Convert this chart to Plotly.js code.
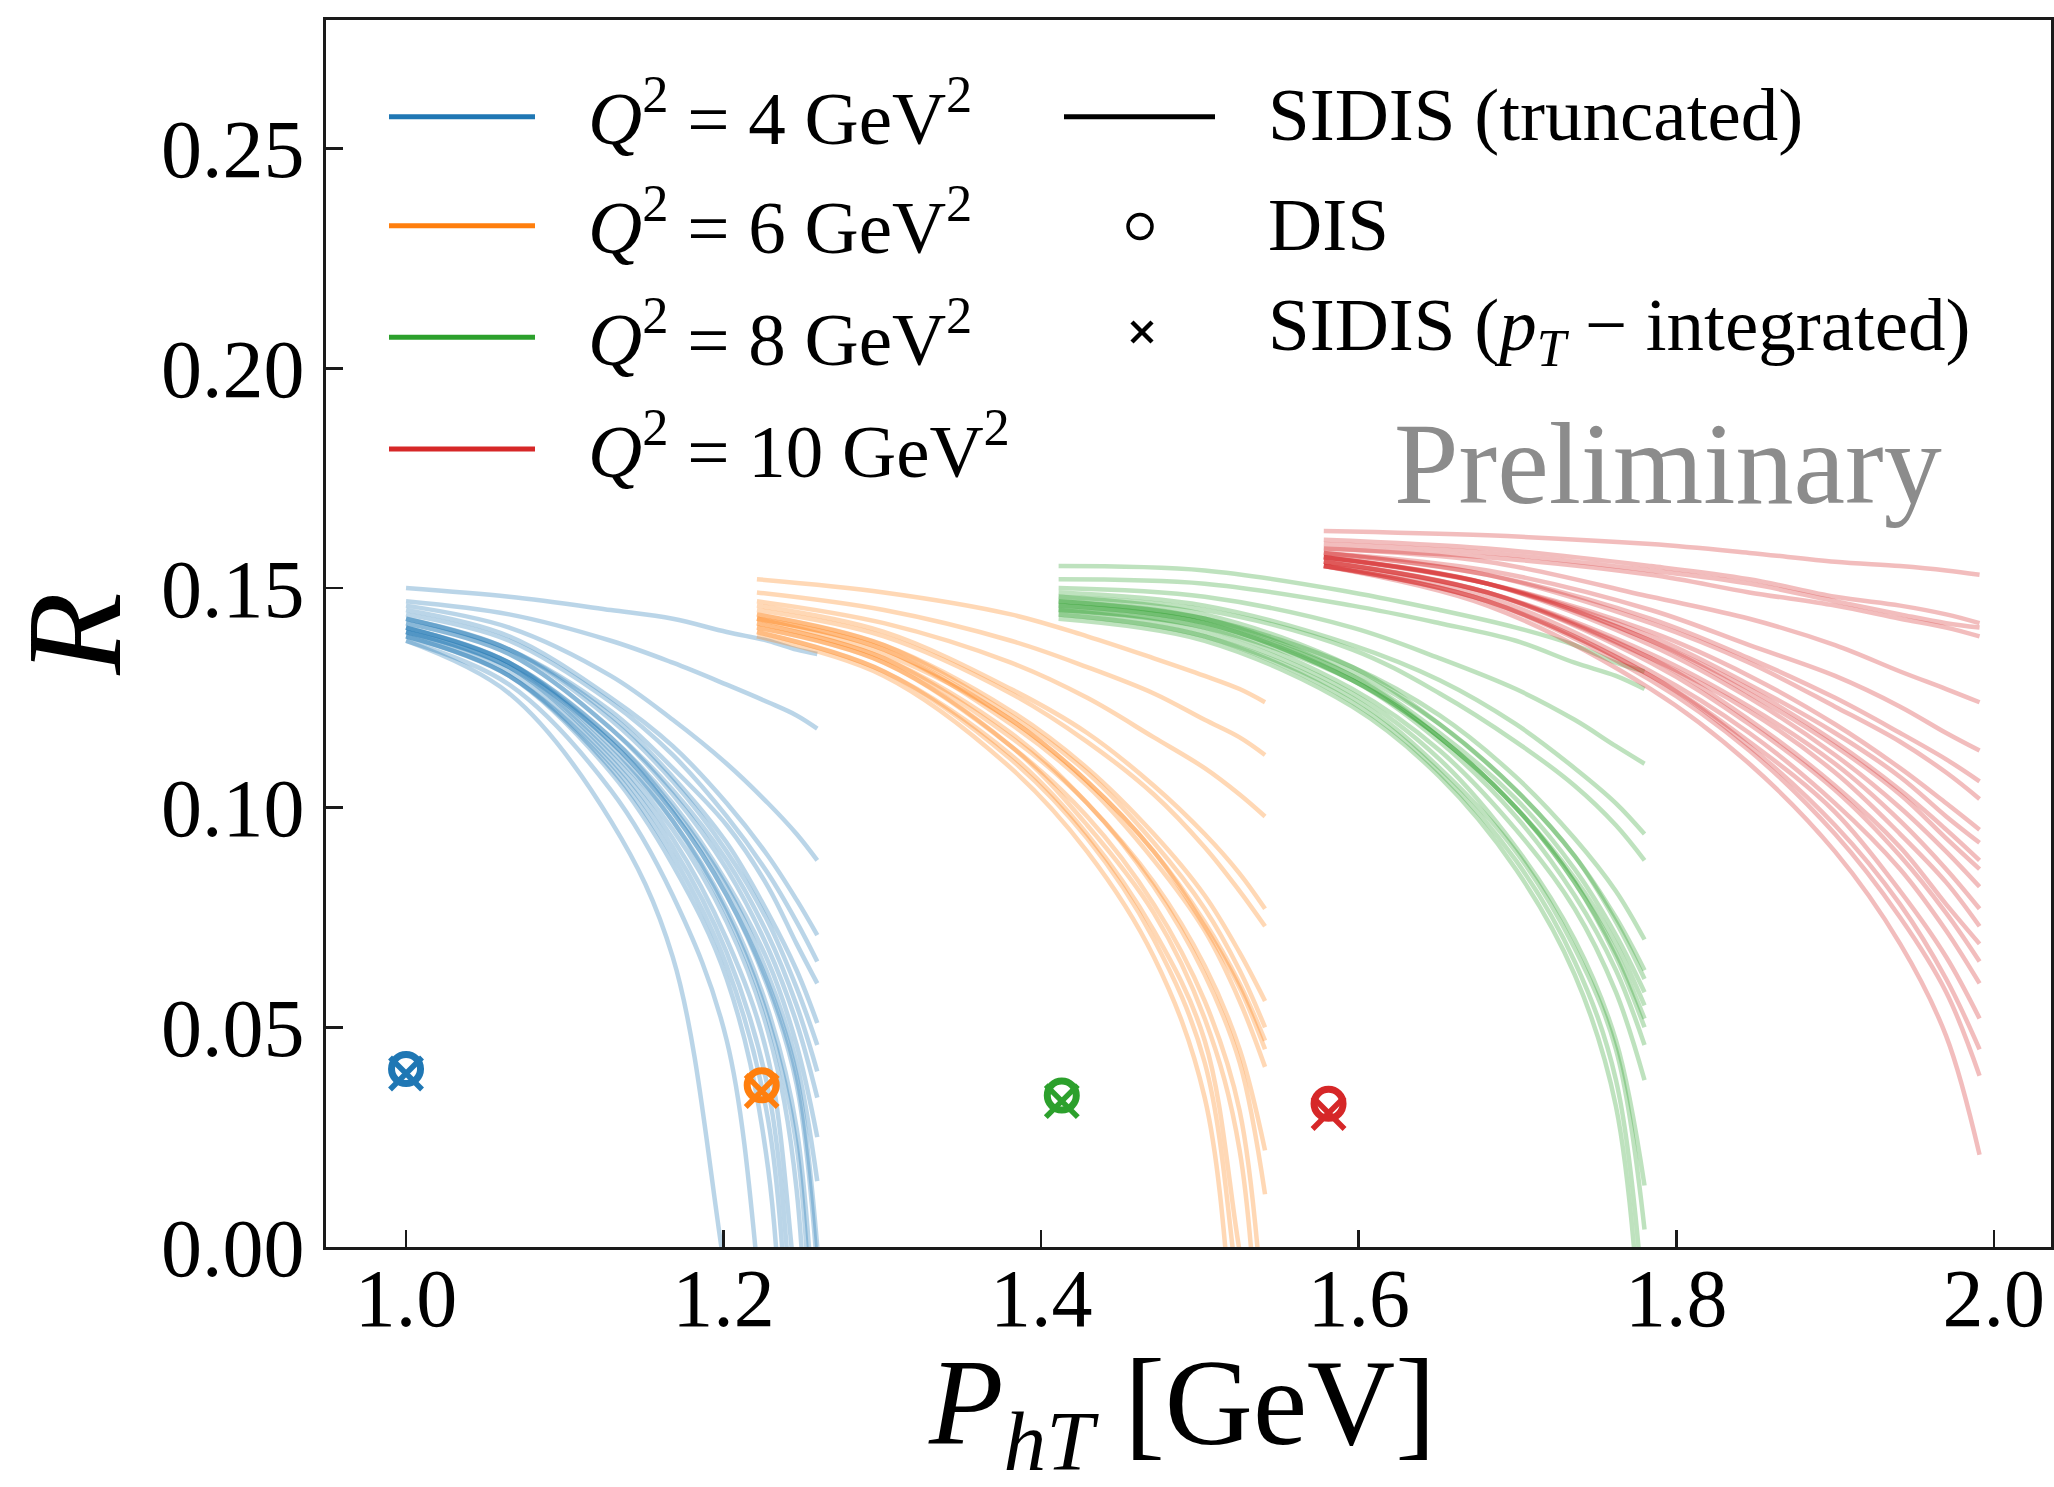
<!DOCTYPE html>
<html>
<head>
<meta charset="utf-8">
<script src="https://cdn.plot.ly/plotly-3.0.1.min.js"></script>
<style>html,body{margin:0;padding:0;background:#fff;}</style>
</head>
<body>
<div id="chart" style="width:2054px;height:1487px;"></div>
<script>
// ---------------- DATA ----------------
const groupLabels = ['<i>Q</i><sup>2</sup> = 4 GeV<sup>2</sup>', '<i>Q</i><sup>2</sup> = 6 GeV<sup>2</sup>',
                     '<i>Q</i><sup>2</sup> = 8 GeV<sup>2</sup>', '<i>Q</i><sup>2</sup> = 10 GeV<sup>2</sup>'];
const groupColors = ['#1f77b4', '#ff7f0e', '#2ca02c', '#d62728'];
const markerLabels = ['SIDIS (truncated)', 'DIS', 'SIDIS (<i>p</i><sub><i>T</i></sub> \u2212 integrated)'];
const xTitle = '<i>P</i><sub><i>hT</i></sub> [GeV]';
const yTitle = '<i>R</i>';
const watermark = 'Preliminary';

// P_hT sampling of the curves of each Q^2 group
const blueX   = [1.000, 1.065, 1.129, 1.168, 1.202, 1.228, 1.246, 1.259];
const orangeX = [1.221, 1.301, 1.381, 1.429, 1.471, 1.503, 1.525, 1.541];
const greenX  = [1.411, 1.503, 1.596, 1.651, 1.699, 1.736, 1.762, 1.780];
const redX    = [1.578, 1.681, 1.784, 1.846, 1.900, 1.941, 1.970, 1.991];

// R values of each replica curve (values below 0 fall out of the axis)
const blueCurves = [
  [0.150, 0.148, 0.145, 0.143, 0.140, 0.138, 0.136, 0.135],
  [0.147, 0.144, 0.138, 0.133, 0.128, 0.124, 0.121, 0.118],
  [0.146, 0.141, 0.130, 0.120, 0.110, 0.101, 0.094, 0.088],
  [0.145, 0.139, 0.125, 0.114, 0.101, 0.089, 0.079, 0.071],
  [0.144, 0.138, 0.124, 0.112, 0.098, 0.085, 0.074, 0.065],
  [0.143, 0.136, 0.122, 0.109, 0.096, 0.082, 0.069, 0.060],
  [0.143, 0.136, 0.120, 0.106, 0.090, 0.074, 0.059, 0.046],
  [0.142, 0.135, 0.118, 0.104, 0.088, 0.071, 0.055, 0.040],
  [0.142, 0.135, 0.118, 0.103, 0.086, 0.068, 0.051, 0.034],
  [0.141, 0.133, 0.116, 0.101, 0.083, 0.065, 0.046, 0.025],
  [0.141, 0.133, 0.116, 0.100, 0.082, 0.062, 0.042, 0.015],
  [0.141, 0.133, 0.115, 0.099, 0.080, 0.059, 0.037, -0.005],
  [0.140, 0.132, 0.113, 0.097, 0.077, 0.054, 0.027, -0.030],
  [0.140, 0.132, 0.112, 0.095, 0.074, 0.049, 0.013, -0.116],
  [0.140, 0.131, 0.111, 0.093, 0.070, 0.043, -0.011, -0.049],
  [0.139, 0.130, 0.110, 0.091, 0.067, 0.036, -0.027, -0.073],
  [0.139, 0.130, 0.109, 0.089, 0.064, 0.029, -0.052, -0.110],
  [0.139, 0.130, 0.108, 0.087, 0.061, 0.018, -0.110, -0.200],
  [0.138, 0.128, 0.104, 0.080, 0.047, -0.028, -0.080, -0.117],
  [0.138, 0.126, 0.097, 0.066, -0.008, -0.065, -0.105, -0.134],
  [0.143, 0.136, 0.121, 0.107, 0.092, 0.076, 0.063, 0.051],
  [0.140, 0.132, 0.115, 0.099, 0.080, 0.060, 0.039, 0.000],
  [0.141, 0.133, 0.114, 0.097, 0.076, 0.052, 0.023, -0.049]
];
const orangeCurves = [
  [0.152, 0.149, 0.144, 0.139, 0.134, 0.130, 0.127, 0.124],
  [0.149, 0.145, 0.138, 0.132, 0.126, 0.120, 0.116, 0.112],
  [0.147, 0.142, 0.133, 0.125, 0.116, 0.109, 0.103, 0.098],
  [0.146, 0.140, 0.127, 0.117, 0.105, 0.094, 0.085, 0.077],
  [0.145, 0.139, 0.126, 0.115, 0.103, 0.091, 0.081, 0.073],
  [0.144, 0.137, 0.122, 0.109, 0.094, 0.080, 0.067, 0.056],
  [0.144, 0.137, 0.121, 0.108, 0.092, 0.077, 0.063, 0.050],
  [0.143, 0.136, 0.120, 0.106, 0.090, 0.073, 0.059, 0.045],
  [0.143, 0.136, 0.119, 0.105, 0.088, 0.072, 0.056, 0.041],
  [0.142, 0.134, 0.117, 0.101, 0.083, 0.064, 0.045, 0.022],
  [0.142, 0.134, 0.116, 0.101, 0.082, 0.062, 0.042, 0.012],
  [0.141, 0.133, 0.114, 0.098, 0.078, 0.056, 0.031, -0.021],
  [0.141, 0.133, 0.114, 0.096, 0.076, 0.052, 0.022, -0.052],
  [0.140, 0.131, 0.112, 0.094, 0.072, 0.047, -0.001, -0.035],
  [0.140, 0.131, 0.111, 0.093, 0.070, 0.042, -0.013, -0.053],
  [0.139, 0.130, 0.109, 0.090, 0.066, 0.034, -0.036, -0.085],
  [0.143, 0.135, 0.120, 0.106, 0.090, 0.074, 0.060, 0.047]
];
const greenCurves = [
  [0.155, 0.154, 0.149, 0.145, 0.141, 0.137, 0.133, 0.131],
  [0.152, 0.151, 0.146, 0.142, 0.138, 0.133, 0.130, 0.127],
  [0.150, 0.148, 0.141, 0.134, 0.127, 0.120, 0.114, 0.110],
  [0.149, 0.146, 0.137, 0.129, 0.119, 0.109, 0.101, 0.094],
  [0.148, 0.145, 0.136, 0.126, 0.115, 0.105, 0.096, 0.088],
  [0.147, 0.143, 0.132, 0.121, 0.107, 0.093, 0.081, 0.070],
  [0.147, 0.143, 0.131, 0.119, 0.104, 0.089, 0.075, 0.063],
  [0.146, 0.142, 0.130, 0.117, 0.102, 0.086, 0.071, 0.058],
  [0.146, 0.142, 0.129, 0.116, 0.100, 0.083, 0.067, 0.052],
  [0.146, 0.142, 0.129, 0.115, 0.098, 0.080, 0.063, 0.046],
  [0.145, 0.141, 0.129, 0.116, 0.100, 0.084, 0.069, 0.055],
  [0.145, 0.141, 0.127, 0.113, 0.095, 0.077, 0.058, 0.038],
  [0.145, 0.140, 0.126, 0.111, 0.091, 0.070, 0.047, 0.014],
  [0.144, 0.139, 0.125, 0.109, 0.090, 0.068, 0.045, 0.004],
  [0.144, 0.139, 0.124, 0.108, 0.088, 0.065, 0.038, -0.016],
  [0.143, 0.138, 0.123, 0.107, 0.086, 0.062, 0.032, -0.032],
  [0.147, 0.143, 0.130, 0.116, 0.100, 0.083, 0.066, 0.050],
  [0.148, 0.144, 0.132, 0.119, 0.104, 0.089, 0.074, 0.061]
];
const redCurves = [
  [0.163, 0.162, 0.160, 0.158, 0.156, 0.155, 0.154, 0.153],
  [0.161, 0.159, 0.155, 0.152, 0.148, 0.146, 0.144, 0.142],
  [0.160, 0.158, 0.154, 0.151, 0.147, 0.144, 0.142, 0.141],
  [0.159, 0.157, 0.153, 0.149, 0.146, 0.143, 0.141, 0.139],
  [0.159, 0.156, 0.148, 0.143, 0.137, 0.131, 0.127, 0.124],
  [0.158, 0.154, 0.145, 0.137, 0.130, 0.123, 0.117, 0.113],
  [0.158, 0.153, 0.143, 0.134, 0.125, 0.117, 0.111, 0.106],
  [0.158, 0.153, 0.142, 0.133, 0.123, 0.115, 0.108, 0.102],
  [0.157, 0.151, 0.140, 0.130, 0.119, 0.109, 0.101, 0.095],
  [0.157, 0.151, 0.139, 0.128, 0.117, 0.107, 0.098, 0.092],
  [0.157, 0.151, 0.138, 0.126, 0.114, 0.103, 0.093, 0.086],
  [0.157, 0.151, 0.137, 0.125, 0.112, 0.100, 0.090, 0.082],
  [0.156, 0.149, 0.135, 0.123, 0.110, 0.097, 0.086, 0.077],
  [0.156, 0.149, 0.134, 0.122, 0.108, 0.094, 0.083, 0.073],
  [0.156, 0.149, 0.134, 0.120, 0.105, 0.091, 0.078, 0.069],
  [0.156, 0.149, 0.133, 0.119, 0.104, 0.089, 0.076, 0.065],
  [0.155, 0.148, 0.131, 0.117, 0.101, 0.086, 0.072, 0.060],
  [0.155, 0.147, 0.130, 0.115, 0.099, 0.081, 0.066, 0.052],
  [0.155, 0.147, 0.130, 0.114, 0.096, 0.078, 0.061, 0.045],
  [0.155, 0.147, 0.129, 0.113, 0.094, 0.075, 0.058, 0.039],
  [0.155, 0.146, 0.127, 0.110, 0.090, 0.069, 0.048, 0.021],
  [0.157, 0.151, 0.138, 0.127, 0.115, 0.104, 0.095, 0.088]
];

// single points: DIS (circles) and p_T-integrated SIDIS (crosses)
const pointX = [1.000, 1.224, 1.413, 1.581];
const disR   = [0.0405, 0.0368, 0.0345, 0.0326];
const sidisR = [0.0395, 0.0355, 0.0332, 0.0305];

// axis ticks
const xTickVals = [1.0, 1.2, 1.4, 1.6, 1.8, 2.0];
const xTickText = ['1.0', '1.2', '1.4', '1.6', '1.8', '2.0'];
const yTickVals = [0.00, 0.05, 0.10, 0.15, 0.20, 0.25];
const yTickText = ['0.00', '0.05', '0.10', '0.15', '0.20', '0.25'];

// ---------------- BUILD ----------------
const groupX = [blueX, orangeX, greenX, redX];
const groupCurves = [blueCurves, orangeCurves, greenCurves, redCurves];

const traces = [];
groupCurves.forEach((curves, g) => {
  curves.forEach(c => {
    traces.push({
      type: 'scatter', mode: 'lines', x: groupX[g], y: c,
      line: {color: groupColors[g], width: 4.5, shape: 'spline', smoothing: 1},
      opacity: 0.3, showlegend: false, hoverinfo: 'skip'
    });
  });
});
pointX.forEach((px, g) => {
  traces.push({
    type: 'scatter', mode: 'markers', x: [px], y: [disR[g]],
    marker: {symbol: 'circle-open', size: 29, color: groupColors[g], line: {width: 7, color: groupColors[g]}},
    showlegend: false, hoverinfo: 'skip', cliponaxis: false
  });
  traces.push({
    type: 'scatter', mode: 'markers', x: [px], y: [sidisR[g]],
    marker: {symbol: 'x-thin-open', size: 32, color: groupColors[g], line: {width: 5.5, color: groupColors[g]}},
    showlegend: false, hoverinfo: 'skip', cliponaxis: false
  });
});

// pixel -> paper helpers for the hand-made legend
const L = 326, T = 20, W = 1725, H = 1227;
const pxX = X => (X - L) / W;
const pxY = Y => (T + H - Y) / H;

const legRowsY = [116.7, 225.7, 337.3, 449];
const shapes = [];
const annotations = [];
const FONT = 'Liberation Serif, Times New Roman, DejaVu Serif, serif';

groupLabels.forEach((lab, i) => {
  shapes.push({type: 'line', xref: 'paper', yref: 'paper',
    x0: pxX(389), x1: pxX(535), y0: pxY(legRowsY[i]), y1: pxY(legRowsY[i]),
    line: {color: groupColors[i], width: 5}});
  annotations.push({xref: 'paper', yref: 'paper', x: pxX(586), y: pxY(legRowsY[i] - 4),
    xanchor: 'left', yanchor: 'middle', showarrow: false, text: lab,
    font: {family: FONT, size: 75, color: '#000'}});
});
// column 2
const col2Y = [116.7, 226.5, 332];
shapes.push({type: 'line', xref: 'paper', yref: 'paper',
  x0: pxX(1064), x1: pxX(1215), y0: pxY(col2Y[0]), y1: pxY(col2Y[0]),
  line: {color: '#000', width: 5}});
shapes.push({type: 'circle', xref: 'paper', yref: 'paper', xsizemode: 'pixel', ysizemode: 'pixel',
  xanchor: pxX(1140), yanchor: pxY(col2Y[1]), x0: -12, x1: 12, y0: -12, y1: 12,
  line: {color: '#000', width: 3.5}});
shapes.push({type: 'line', xref: 'paper', yref: 'paper', xsizemode: 'pixel', ysizemode: 'pixel',
  xanchor: pxX(1142), yanchor: pxY(col2Y[2]), x0: -10, x1: 10, y0: -10, y1: 10,
  line: {color: '#000', width: 4.5}});
shapes.push({type: 'line', xref: 'paper', yref: 'paper', xsizemode: 'pixel', ysizemode: 'pixel',
  xanchor: pxX(1142), yanchor: pxY(col2Y[2]), x0: -10, x1: 10, y0: 10, y1: -10,
  line: {color: '#000', width: 4.5}});
markerLabels.forEach((lab, i) => {
  annotations.push({xref: 'paper', yref: 'paper', x: pxX(1266), y: pxY(col2Y[i] - 2),
    xanchor: 'left', yanchor: 'middle', showarrow: false, text: lab,
    font: {family: FONT, size: 75, color: '#000'}});
});
annotations.push({xref: 'paper', yref: 'paper', x: pxX(1392), y: pxY(464),
  xanchor: 'left', yanchor: 'middle', showarrow: false, text: watermark,
  font: {family: FONT, size: 116, color: '#8c8c8c'}});
// x-axis title (placed as annotation for exact vertical position)
annotations.push({xref: 'paper', yref: 'paper', x: pxX(1182), y: pxY(1411),
  xanchor: 'center', yanchor: 'middle', showarrow: false, text: xTitle,
  font: {family: FONT, size: 122, color: '#000'}});

const axisCommon = {
  showgrid: false, zeroline: false, showline: true, mirror: true,
  linecolor: '#1a1a1a', linewidth: 3,
  ticks: 'inside', ticklen: 17, tickwidth: 2.5, tickcolor: '#1a1a1a',
  tickfont: {family: FONT, size: 82, color: '#000'},
  automargin: false, tickmode: 'array'
};

const layout = {
  width: 2054, height: 1487,
  margin: {l: L, r: 2054 - L - W, t: T, b: 1487 - T - H, pad: 0},
  paper_bgcolor: '#ffffff', plot_bgcolor: '#ffffff',
  showlegend: false,
  font: {family: FONT, color: '#000'},
  xaxis: Object.assign({}, axisCommon, {
    range: [0.9496, 2.036], tickvals: xTickVals, ticktext: xTickText,
    ticklabelstandoff: -22
  }),
  yaxis: Object.assign({}, axisCommon, {
    range: [0, 0.2793], tickvals: yTickVals, ticktext: yTickText,
    ticklabelstandoff: 2,
    title: {text: yTitle, font: {family: FONT, size: 135, color: '#000'}, standoff: 42}
  }),
  shapes: shapes,
  annotations: annotations
};

Plotly.newPlot('chart', traces, layout, {staticPlot: true, displayModeBar: false});
</script>
</body>
</html>
